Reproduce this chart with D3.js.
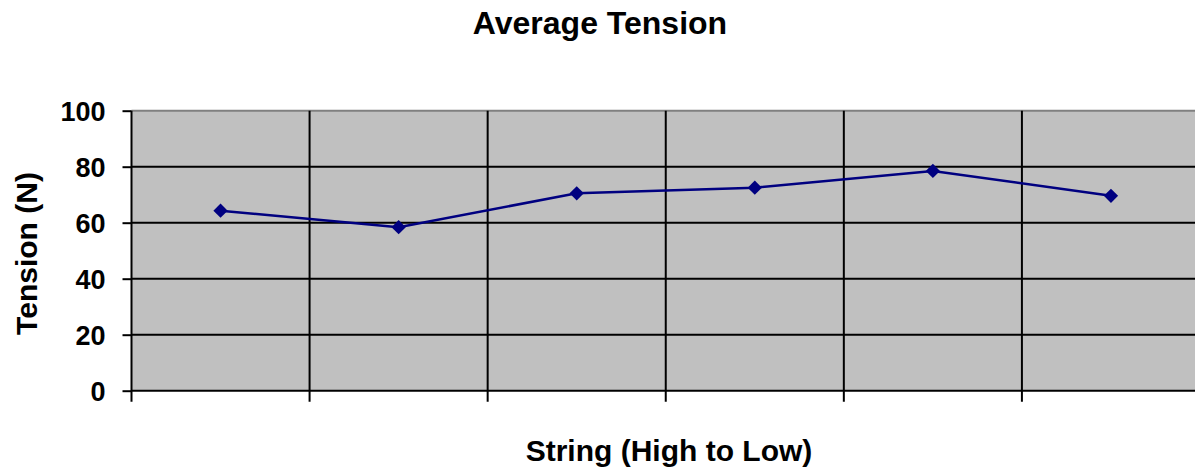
<!DOCTYPE html>
<html><head><meta charset="utf-8">
<script src="https://cdn.jsdelivr.net/npm/d3@7"></script>
<style>body{margin:0;background:#fff}svg{display:block;font-family:"Liberation Sans",Arial,sans-serif}</style>
</head><body><svg id="c" width="1195" height="469"></svg>
<script>
const categories = ["1","2","3","4","5","6"];
const tension = [64.3, 58.4, 70.5, 72.5, 78.5, 69.6];
const yTicks = [0,20,40,60,80,100];

const svg = d3.select("#c");
const L=131.5, R=1200, T=110.7, B=390.7;
const x = d3.scaleBand().domain(categories).range([L,R]);
const y = d3.scaleLinear().domain([0,100]).range([B,T]);

svg.append("rect").attr("x",L).attr("y",T).attr("width",R-L).attr("height",B-T).attr("fill","#C0C0C0");
svg.append("line").attr("x1",L).attr("x2",R).attr("y1",T).attr("y2",T).attr("stroke","#808080").attr("stroke-width",2);
svg.append("g").selectAll("line").data(yTicks.filter(d=>d>0&&d<100)).join("line")
 .attr("x1",L).attr("x2",R).attr("y1",d=>y(d)).attr("y2",d=>y(d)).attr("stroke","#000").attr("stroke-width",2);
svg.append("g").selectAll("line").data(categories.slice(1)).join("line")
 .attr("x1",d=>x(d)).attr("x2",d=>x(d)).attr("y1",T).attr("y2",B+11).attr("stroke","#000").attr("stroke-width",2);
const ya = svg.append("g").attr("transform",`translate(${L},0)`)
 .call(d3.axisLeft(y).tickValues(yTicks).tickSize(9).tickPadding(17));
ya.select(".domain").attr("stroke","#000").attr("stroke-width",2).attr("d",`M0,${T}V${B+11}`);
ya.selectAll(".tick line").attr("stroke","#000").attr("stroke-width",2);
ya.selectAll(".tick text").attr("font-size",27).attr("font-weight","bold").attr("fill","#000").attr("font-family","Liberation Sans, Arial, sans-serif").attr("dy","0.36em");
svg.append("line").attr("x1",L).attr("x2",R).attr("y1",B).attr("y2",B).attr("stroke","#000").attr("stroke-width",2);

const cx = d=>x(d)+x.bandwidth()/2;
const line = d3.line().x((d,i)=>cx(categories[i])).y(d=>y(d));
svg.append("path").datum(tension).attr("d",line).attr("fill","none").attr("stroke","#000080").attr("stroke-width",2.5);
svg.append("g").selectAll("path").data(tension).join("path")
 .attr("d",d3.symbol(d3.symbolDiamond2,130))
 .attr("transform",(d,i)=>`translate(${cx(categories[i])},${y(d)})`).attr("fill","#000080");

svg.append("text").attr("x",600).attr("y",34).attr("text-anchor","middle").attr("font-size",32).attr("font-weight","bold").text("Average Tension");
svg.append("text").attr("x",669).attr("y",461).attr("text-anchor","middle").attr("font-size",30).attr("font-weight","bold").text("String (High to Low)");
svg.append("text").attr("transform",`translate(37,253.5) rotate(-90)`).attr("text-anchor","middle").attr("font-size",30).attr("font-weight","bold").text("Tension (N)");
</script></body></html>
